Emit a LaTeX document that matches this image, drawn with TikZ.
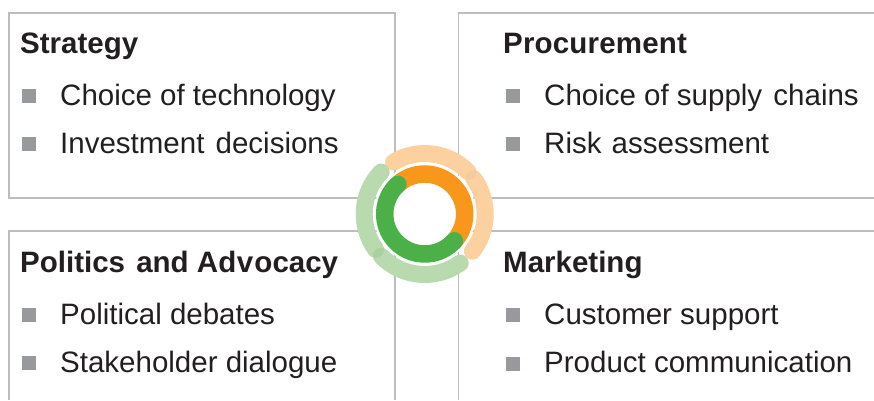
\documentclass[tikz,border=0pt]{standalone}
\usepackage{fontspec}
\setmainfont{Liberation Sans}
\definecolor{txt}{HTML}{231F20}
\definecolor{bul}{HTML}{98999D}
\definecolor{frame}{HTML}{BDBDBF}
\definecolor{lor}{HTML}{FDD19F}
\definecolor{lgr}{HTML}{B9DAAE}
\definecolor{lorx}{HTML}{F6CB9C}
\definecolor{lgrx}{HTML}{ABD0A0}
\definecolor{dor}{HTML}{F9971D}
\definecolor{dgr}{HTML}{4CB048}
\tikzset{
  head/.style={anchor=base west,inner sep=0pt,text=txt,font=\fontsize{29.5}{32}\selectfont\bfseries},
  item/.style={anchor=base west,inner sep=0pt,text=txt,font=\fontsize{29.5}{32}\selectfont},
  sq/.style={fill=bul,draw=none,minimum size=14pt,inner sep=0pt,anchor=center},
  panel/.style={draw=frame,line width=1.3pt},
  outerarc/.style={line width=17pt,line cap=round},
  innerarc/.style={line width=17.5pt}
}
\begin{document}
\begin{tikzpicture}[x=1pt,y=-1pt]
\useasboundingbox (0,0) rectangle (874,400);
\coordinate (c) at (424.7,214);
% panels
\draw[panel] (9,13) rectangle (395,198);
\draw[panel] (874,13) -- (458.3,13) -- (458.3,198) -- (874,198);
\draw[panel] (9,400) -- (9,231) -- (395,231) -- (395,400);
\draw[panel] (874,231) -- (458.3,231) -- (458.3,400);
% texts
\node[head] (t1) at (20,53) {Strategy};
\node[sq] (s1a) at (29,96) {};
\node[item] (i1a) at (60,105) {Choice of technology};
\node[sq] (s1b) at (29,144) {};
\node[item] (i1b) at (60,153) {Investment\hspace{3pt} decisions};
\node[head] (t2) at (503,53) {\addfontfeature{LetterSpace=0.6}Procurement};
\node[sq] (s2a) at (513,96) {};
\node[item] (i2a) at (544,105) {Choice of supply\hspace{3pt} chains};
\node[sq] (s2b) at (513,144) {};
\node[item] (i2b) at (544,153) {Risk\hspace{2pt} assessment};
\node[head] (t3) at (20,272) {Politics\hspace{3pt} and Ad{\kern.5pt}v{\kern1.3pt}ocacy};
\node[sq] (s3a) at (29,315) {};
\node[item] (i3a) at (60,324) {Political debates};
\node[sq] (s3b) at (29,363) {};
\node[item] (i3b) at (60,372) {Stakeholder dialogue};
\node[head] (t4) at (503,272) {Marketing};
\node[sq] (s4a) at (513,315) {};
\node[item] (i4a) at (544,324) {Customer support};
\node[sq] (s4b) at (513,363.5) {};
\node[item] (i4b) at (544,372) {Product communication};
% ring
\fill[white] (c) circle[radius=51];
\begin{scope}[y=1pt,shift={(c)}]
\draw[outerarc,lor] (121:60.5) arc[start angle=121,end angle=44.25,radius=60.5];
\draw[outerarc,lor] (35.75:60.5) arc[start angle=35.75,end angle=-38,radius=60.5];
\draw[outerarc,lgr] (-54:60.5) arc[start angle=-54,end angle=-135.75,radius=60.5];
\draw[outerarc,lgr] (215.75:60.5) arc[start angle=215.75,end angle=136,radius=60.5];
\begin{scope}
\clip (44.25:60.5) circle[radius=8.5];
\fill[lorx] (35.75:60.5) circle[radius=8.5];
\end{scope}
\begin{scope}
\clip (-135.75:60.5) circle[radius=8.5];
\fill[lgrx] (215.75:60.5) circle[radius=8.5];
\end{scope}
\draw[innerarc,dor] (132:40) arc[start angle=132,end angle=-46,radius=40];
\draw[innerarc,dgr,line cap=round] (132:40) arc[start angle=132,end angle=318,radius=40];
\end{scope}
\end{tikzpicture}
\end{document}
